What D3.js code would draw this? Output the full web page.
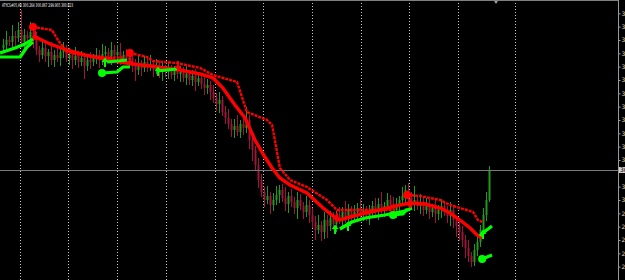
<!DOCTYPE html>
<html>
<head>
<meta charset="utf-8">
<script src="https://cdn.jsdelivr.net/npm/d3@7"></script>
<style>
  html, body { margin: 0; padding: 0; background: #000; overflow: hidden; }
  svg { display: block; }
</style>
</head>
<body>
<div id="chart"></div>
<script>
// candle closes (open = previous close)
const closes = [
  304.65, 304.80, 304.74, 304.92, 304.86, 305.10, 304.74, 304.95, 304.86, 305.04,
  304.80, 304.50, 304.35, 304.56, 304.32, 304.44, 304.20, 304.35, 304.26, 304.44,
  304.50, 304.26, 304.35, 304.20, 304.32, 304.14, 304.26, 304.02, 304.20, 304.14,
  304.26, 304.35, 304.20, 304.38, 304.44, 304.32, 304.50, 304.35, 304.44, 304.26,
  304.35, 304.20, 304.26, 304.02, 303.90, 304.08, 303.96, 304.14, 304.02, 304.08,
  303.90, 304.02, 303.84, 303.96, 303.84, 303.90, 303.75, 303.90, 303.78, 303.84,
  303.66, 303.78, 303.60, 303.72, 303.54, 303.66, 303.48, 303.36, 303.45, 303.24,
  303.06, 302.88, 303.00, 302.64, 302.46, 302.28, 302.10, 302.22, 302.04, 302.28,
  302.16, 302.40, 301.80, 301.50, 301.05, 300.60, 300.24, 300.00, 300.12, 299.85,
  300.00, 300.15, 300.30, 300.06, 299.88, 300.12, 299.94, 299.76, 300.00, 299.82,
  299.64, 299.85, 299.55, 299.34, 299.10, 299.25, 299.04, 299.40, 299.22, 299.46,
  299.28, 299.55, 299.40, 299.64, 299.46, 299.70, 299.52, 299.64, 299.76, 299.58,
  299.70, 299.52, 299.64, 299.82, 299.64, 299.88, 299.70, 299.82, 300.00, 299.85,
  299.70, 299.88, 300.00, 300.12, 300.30, 300.06, 299.88, 300.00, 299.82, 299.94,
  299.70, 299.85, 299.64, 299.76, 299.58, 299.70, 299.82, 299.64, 299.52, 299.70,
  299.40, 299.22, 299.04, 298.80, 298.56, 298.32, 298.14, 298.50, 298.74, 299.10,
  299.55, 300.00, 300.90
];
const firstOpen = 304.56;

// wick lengths above / below the body
const upWick = [
  .18,.27,.12,.33,.15,.24,.60,.18,.12,.30, .15,.24,.12,.27,.18,.09,.30,.15,.21,.12,
  .24,.15,.21,.12,.27,.15,.21,.09,.18,.24, .12,.21,.15,.30,.18,.12,.24,.15,.21,.27,
  .12,.18,.15,.09,.21,.24,.12,.18,.15,.27, .12,.21,.15,.18,.09,.24,.15,.12,.21,.18,
  .15,.24,.12,.18,.21,.09,.15,.27,.18,.12, .21,.15,.24,.12,.18,.27,.15,.21,.33,.12,
  .18,.39,.15,.24,.12,.21,.18,.15,.30,.12, .21,.27,.15,.18,.33,.12,.21,.15,.24,.18,
  .12,.27,.15,.21,.18,.30,.12,.24,.15,.21, .18,.12,.24,.15,.33,.18,.12,.21,.15,.27,
  .18,.12,.21,.15,.24,.18,.36,.12,.21,.15, .24,.18,.12,.27,.15,.21,.18,.42,.12,.24,
  .15,.21,.18,.12,.27,.15,.21,.12,.18,.24, .15,.12,.21,.18,.15,.24,.12,.18,.27,.15,
  .21,.24,.12
];
const loWick = [
  .15,.21,.12,.18,.24,.12,.15,.21,.09,.18, .24,.15,.21,.12,.18,.33,.15,.21,.12,.24,
  .18,.12,.21,.27,.15,.18,.12,.39,.15,.21, .12,.18,.24,.15,.21,.12,.27,.15,.18,.21,
  .15,.12,.21,.18,.33,.15,.24,.12,.18,.15, .21,.12,.18,.27,.15,.21,.12,.18,.15,.24,
  .12,.21,.15,.18,.27,.12,.15,.21,.18,.24, .15,.21,.27,.12,.18,.15,.21,.24,.12,.18,
  .21,.15,.27,.33,.18,.24,.15,.21,.12,.27, .18,.15,.24,.12,.21,.27,.15,.18,.33,.12,
  .21,.15,.24,.18,.30,.12,.27,.21,.36,.15, .18,.24,.12,.21,.15,.27,.18,.12,.24,.15,
  .21,.15,.27,.12,.18,.24,.15,.21,.12,.18, .15,.24,.21,.12,.27,.18,.15,.21,.12,.24,
  .18,.12,.21,.15,.27,.18,.24,.12,.21,.30, .24,.33,.27,.21,.30,.18,.15,.12,.18,.15,
  .12,.18,.06
];

// indicator lines: [bar, price]
const slowRed = [
  [10,304.92],[15.7,304.68],[21.3,304.50],[27.3,304.35],[32.3,304.26],[39,304.14],
  [43.3,304.08],[49,304.02],[54,303.96],[59,303.90],[65.7,303.78],[70,303.66],
  [73.3,303.36],[77.3,302.85],[80.7,302.46],[84,301.80],[87.3,301.29],[89.7,300.96],
  [92.3,300.66],[95.7,300.45],[101.3,300.21],[106.7,299.76],[110,299.52],[112.3,299.40],
  [115.7,299.49],[120.7,299.61],[125.7,299.70],[130.7,299.82],[135.7,299.91],[140.7,299.88],
  [145.7,299.76],[149,299.61],[152.3,299.40],[155.7,299.16],[158,298.95],[159.7,298.86]
];
const stopRed1 = [[10,305.19],[16.3,305.10],[18.3,304.80],[21.3,304.44],[25.7,304.35],[32.3,304.29],[40.7,304.26]];
const stopRed2 = [
  [42.3,304.41],[48,304.29],[50,304.17],[58,304.11],[65.7,303.96],[70,303.75],[78,303.54],
  [81.3,302.64],[88,302.40],[89.7,302.25],[92.3,300.96],[95.7,300.60],[101.3,300.39],
  [108,300.00],[111.3,299.70],[130.7,299.70]
];
const stopRed3 = [[134.7,300.15],[139,300.12],[145.7,300.00],[149,299.85],[152.3,299.76],[156.7,299.64],[158.3,299.40],[159.7,299.34]];

const greenLines = [
  [[-1,304.41],[4,304.56],[7.3,304.68],[10,304.83]],
  [[-1,304.29],[5.7,304.29],[8,304.59],[10,304.74]],
  [[34.7,304.14],[41.3,304.20]],
  [[33,303.81],[38,303.84],[40,303.99],[42.3,303.99]],
  [[51.3,303.87],[58,303.93]],
  [[112.3,299.13],[116.3,299.34],[120.7,299.46],[127.3,299.55],[134,299.67],[136.3,299.76]],
  [[130,299.55],[133.3,299.58],[134.7,299.73]],
  [[159,298.92],[160.3,299.04],[161.7,299.13],[163,299.22]],
  [[159.7,298.23],[163,298.35]]
];

const redDots = [[10,305.19],[42.3,304.41],[134.7,300.15]];
const greenDots = [[33,303.81],[130,299.55],[159.7,298.23]];
const downArrows = [[10.7,304.92],[42.3,304.17],[58.3,304.02],[111.3,299.46],[135.7,299.88]];
const upArrows = [[34,304.14],[51.7,303.87],[110.7,299.13],[115,299.22],[160,298.98]];

const gridBars = [5.67, 21.67, 38, 54.33, 70.67, 86.67, 103, 119.33, 135.33, 151.67, 170.67];
const priceTicks = [305.6,305.2,304.8,304.4,304.0,303.6,303.2,302.8,302.4,302.0,
                    301.6,301.2,300.4,300.0,299.6,299.2,298.8,298.4,298.0];
const titleText = "ATYCS#05,H4 300.264 300.867 299.905 300.823";

const width = 625, height = 280, axisX = 618;

const svg = d3.select("#chart").append("svg")
    .attr("width", width)
    .attr("height", height);

svg.append("rect").attr("width", width).attr("height", height).attr("fill", "#000");

let x = d3.scaleLinear().domain([0, 162]).range([3, 489]);
let y = d3.scaleLinear().domain([297.6, 306.0]).range([height, 0]);

//vertical dotted grid
svg.append("g").selectAll("line")
    .data(gridBars)
    .enter().append("line")
    .attr("x1", d => Math.round(x(d)) + 0.5)
    .attr("x2", d => Math.round(x(d)) + 0.5)
    .attr("y1", 0).attr("y2", height)
    .attr("stroke", "#c8c8c8")
    .attr("stroke-width", 1)
    .attr("stroke-dasharray", "1,2");

//border + axis line
svg.append("line").attr("x1", 0).attr("x2", axisX).attr("y1", 0.5).attr("y2", 0.5).attr("stroke", "#808080");
svg.append("line").attr("x1", axisX + 0.5).attr("x2", axisX + 0.5).attr("y1", 0).attr("y2", height).attr("stroke", "#9a9a9a");

// candles
let candles = closes.map((c, i) => {
    let o = i == 0 ? firstOpen : closes[i - 1];
    return {i: i, o: o, c: c, h: Math.max(o, c) + upWick[i], l: Math.min(o, c) - loWick[i]};
});

let cg = svg.append("g");
cg.selectAll("line")
    .data(candles)
    .enter().append("line")
    .attr("x1", d => Math.round(x(d.i)) + 0.5)
    .attr("x2", d => Math.round(x(d.i)) + 0.5)
    .attr("y1", d => y(d.h))
    .attr("y2", d => y(d.l))
    .attr("stroke", d => d.c >= d.o ? "#1e9a1e" : "#a0143c")
    .attr("stroke-width", 1);
cg.selectAll("rect")
    .data(candles)
    .enter().append("rect")
    .attr("x", d => Math.round(x(d.i)) - 0.5)
    .attr("width", 2)
    .attr("y", d => y(Math.max(d.o, d.c)))
    .attr("height", d => Math.max(1, Math.abs(y(d.o) - y(d.c))))
    .attr("fill", d => d.c >= d.o ? "#1e9a1e" : "#a0143c");

//current price line
let last = closes[closes.length - 1];
svg.append("line")
    .attr("x1", 0).attr("x2", axisX)
    .attr("y1", Math.round(y(last)) + 0.5).attr("y2", Math.round(y(last)) + 0.5)
    .attr("stroke", "#7a7a7a");

let line = d3.line().x(d => x(d[0])).y(d => y(d[1]));

svg.append("path").datum(slowRed)
    .attr("d", line).attr("fill", "none")
    .attr("stroke", "#ff0000").attr("stroke-width", 3.4);

[stopRed1, stopRed2, stopRed3].forEach(seg => {
    svg.append("path").datum(seg)
        .attr("d", line).attr("fill", "none")
        .attr("stroke", "#ff0000").attr("stroke-width", 2.4)
        .attr("stroke-dasharray", "3,1");
});

greenLines.forEach(seg => {
    svg.append("path").datum(seg)
        .attr("d", line).attr("fill", "none")
        .attr("stroke", "#00ff00").attr("stroke-width", 3.2)
        .attr("stroke-linejoin", "round");
});

svg.selectAll(".rdot").data(redDots).enter().append("circle")
    .attr("cx", d => x(d[0])).attr("cy", d => y(d[1])).attr("r", 4).attr("fill", "#ff0000");
svg.selectAll(".gdot").data(greenDots).enter().append("circle")
    .attr("cx", d => x(d[0])).attr("cy", d => y(d[1])).attr("r", 4).attr("fill", "#00ff00");

// arrows
function arrowPath(cx, cy, dir) {
    // dir 1 = down, -1 = up
    return "M" + (cx - 1) + "," + (cy - 5 * dir) + "L" + (cx + 1) + "," + (cy - 5 * dir) +
        "L" + (cx + 1) + "," + cy + "L" + (cx + 3.5) + "," + cy + "L" + cx + "," + (cy + 4.5 * dir) +
        "L" + (cx - 3.5) + "," + cy + "L" + (cx - 1) + "," + cy + "Z";
}
svg.selectAll(".darr").data(downArrows).enter().append("path")
    .attr("d", d => arrowPath(x(d[0]), y(d[1]), 1)).attr("fill", "#ff0000");
svg.selectAll(".uarr").data(upArrows).enter().append("path")
    .attr("d", d => arrowPath(x(d[0]), y(d[1]), -1)).attr("fill", "#00ff00");

// right price axis
let axis = svg.append("g")
    .attr("transform", "translate(" + (axisX + 0.5) + ",0)")
    .call(d3.axisRight(y).tickValues(priceTicks).tickSize(2).tickPadding(1).tickFormat(d3.format(".2f")));
axis.select(".domain").remove();
axis.selectAll("line").attr("stroke", "#9a9a9a");
axis.selectAll("text").attr("fill", "#d8d8c0").style("font-size", "6px").style("font-family", "DejaVu Sans");

// last price tag
svg.append("rect").attr("x", axisX + 1).attr("y", y(last) - 3).attr("width", 8).attr("height", 6).attr("fill", "#d0d0d0");
svg.append("text").attr("x", axisX + 2).attr("y", y(last) + 2)
    .style("font-size", "6px").style("font-family", "DejaVu Sans").attr("fill", "#000")
    .text(d3.format(".2f")(last));

// chart shift marker
svg.append("path").attr("d", "M494,1L498,1L496,4Z").attr("fill", "#9a9a9a");

svg.append("text")
    .attr("x", 2).attr("y", 7)
    .attr("fill", "#ffffff")
    .style("font-size", "5px")
    .style("font-family", "DejaVu Sans")
    .attr("textLength", 71)
    .attr("lengthAdjust", "spacingAndGlyphs")
    .text(titleText);
</script>
</body>
</html>
